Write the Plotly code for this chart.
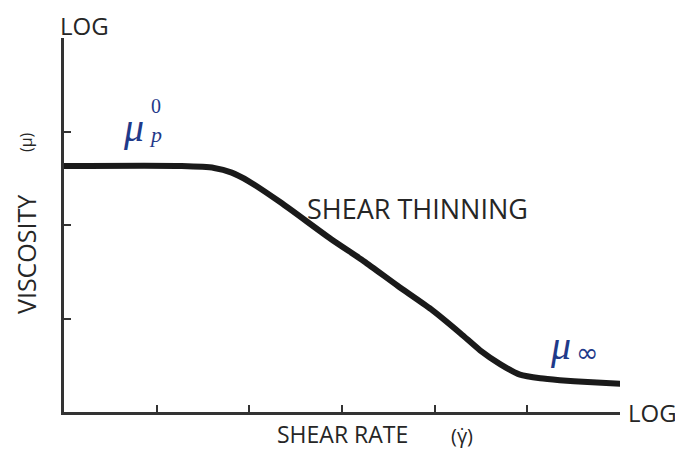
import plotly.graph_objects as go

# Log shear rate (axis units) and log viscosity (axis units)
shear_rate = [0, 1.27, 1.62, 1.81, 1.99, 2.34, 2.88, 3.24, 3.60, 3.96, 4.28, 4.49, 4.71, 4.92, 5.14, 5.35, 5.65, 6.03]
viscosity = [2.63, 2.63, 2.61, 2.56, 2.47, 2.24, 1.85, 1.61, 1.35, 1.10, 0.84, 0.66, 0.51, 0.40, 0.36, 0.34, 0.32, 0.30]

x_ticks = [1, 2, 3, 4, 5, 6]
y_ticks = [1, 2, 3, 4]

AX = "#333333"
BLUE = "#1f3a8a"
FONT = "Open Sans"

fig = go.Figure()
fig.add_trace(go.Scatter(
    x=shear_rate, y=viscosity, mode="lines",
    line=dict(color="#1a1a1a", width=6, shape="spline", smoothing=0.6),
    cliponaxis=False, hoverinfo="skip", showlegend=False,
))

fig.update_layout(
    width=675, height=444,
    margin=dict(l=56, r=63, t=30, b=40),
    plot_bgcolor="white", paper_bgcolor="white",
    xaxis=dict(range=[0, 6], showgrid=False, zeroline=False, showline=True,
               linecolor=AX, linewidth=3, ticks="inside", ticklen=7, tickwidth=2,
               tickcolor=AX, tickvals=x_ticks, showticklabels=False),
    yaxis=dict(range=[0, 4], showgrid=False, zeroline=False, showline=True,
               linecolor=AX, linewidth=3, ticks="inside", ticklen=7, tickwidth=2,
               tickcolor=AX, tickvals=y_ticks, showticklabels=False),
)

# plot area in page pixels: x 64..620, y 38..412
def px(xp):
    return (xp - 64) / 556


def py(yp):
    return (412 - yp) / 374


txt = dict(family=FONT, color="#262626")
base = dict(xref="paper", yref="paper", showarrow=False, borderpad=0)
ann = []
ann.append(dict(text="LOG", x=px(59), y=py(25), xanchor="left", yanchor="middle",
                font=dict(size=24, **txt), **base))
ann.append(dict(text="LOG", x=px(627), y=py(412), xanchor="left", yanchor="middle",
                font=dict(size=24, **txt), **base))
ann.append(dict(text="VISCOSITY", x=px(26), y=py(255), xanchor="center", yanchor="middle",
                textangle=-90, font=dict(size=25, **txt), **base))
ann.append(dict(text="(μ)", x=px(26), y=py(142), xanchor="center", yanchor="middle",
                textangle=-90, font=dict(size=16, **txt), **base))
ann.append(dict(text="SHEAR RATE", x=px(342), y=py(434), xanchor="center", yanchor="middle",
                font=dict(size=23, **txt), **base))
ann.append(dict(text="(γ̇)", x=px(462), y=py(435), xanchor="center", yanchor="middle",
                font=dict(size=20, **txt), **base))
ann.append(dict(text="SHEAR THINNING", x=px(417), y=py(208), xanchor="center", yanchor="middle",
                font=dict(size=27, **txt), **base))
# mu_p^0
ann.append(dict(text="<i>μ</i>", x=px(133), y=py(128), xanchor="center", yanchor="middle",
                font=dict(family="Liberation Serif", size=40, color=BLUE), **base))
ann.append(dict(text="0", x=px(156), y=py(106), xanchor="center", yanchor="middle",
                font=dict(family="Liberation Serif", size=20, color=BLUE), **base))
ann.append(dict(text="<i>p</i>", x=px(155), y=py(134), xanchor="center", yanchor="middle",
                font=dict(family="Liberation Serif", size=22, color=BLUE), **base))
# mu_inf
ann.append(dict(text="<i>μ</i>", x=px(560), y=py(345), xanchor="center", yanchor="middle",
                font=dict(family="Liberation Serif", size=40, color=BLUE), **base))
ann.append(dict(text="∞", x=px(587), y=py(352), xanchor="center", yanchor="middle",
                font=dict(family="DejaVu Sans", size=27, color=BLUE), **base))
fig.update_layout(annotations=ann)

fig.write_html("out.html")
